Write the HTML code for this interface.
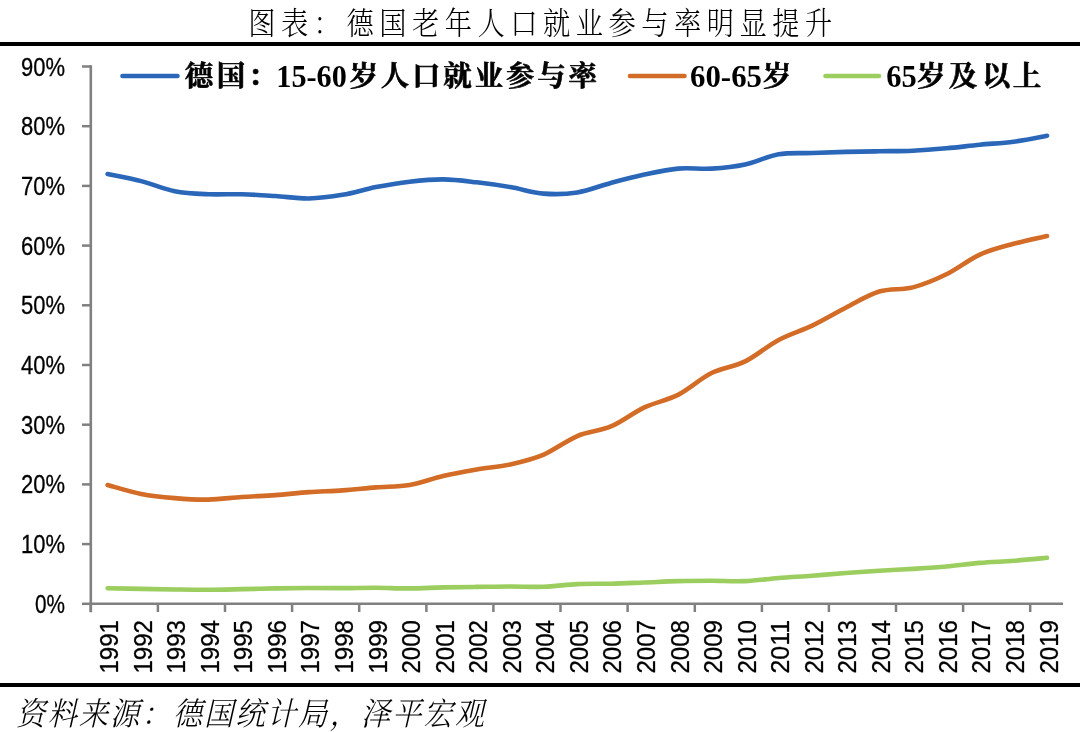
<!DOCTYPE html>
<html><head><meta charset="utf-8"><title>图表：德国老年人口就业参与率明显提升</title>
<style>html,body{margin:0;padding:0;background:#fff;}svg{display:block;will-change:transform;}</style></head>
<body><svg width="1080" height="732" viewBox="0 0 1080 732">
<rect x="0" y="42" width="1080" height="4" fill="#000"/>
<rect x="0" y="683" width="1080" height="4" fill="#000"/>
<text transform="scale(0.880,1)" x="297.61 334.83 372.05 409.26 446.48 483.69 520.91 558.12 595.34 632.56 669.77 706.99 744.20 781.42 818.64 855.85 893.07 930.28" y="34" text-anchor="middle" font-family="'Liberation Serif', 'Noto Serif CJK SC', serif" font-weight="300" font-size="31" fill="#000">图表：德国老年人口就业参与率明显提升</text>
<text transform="scale(0.920,1)" x="33.48 67.53 101.59 135.64 169.70 203.75 237.80 271.86 305.91 339.97 374.02 408.08 442.13 476.18 510.24" y="725.3" text-anchor="middle" font-family="'Liberation Serif', 'Noto Serif CJK SC', serif" font-style="italic" font-weight="300" font-size="32" fill="#000">资料来源：德国统计局，泽平宏观</text>
<line x1="90.8" y1="65.20" x2="90.8" y2="612.2" stroke="#808080" stroke-width="2.6"/>
<line x1="89.6" y1="603.8" x2="1063.0" y2="603.8" stroke="#808080" stroke-width="2.5"/>
<line x1="82" y1="603.8" x2="90.8" y2="603.8" stroke="#808080" stroke-width="2.5"/>
<text x="65" y="612.8" text-anchor="end" font-family="'Liberation Sans', 'DejaVu Sans', sans-serif" font-size="25" textLength="30" lengthAdjust="spacingAndGlyphs" fill="#000" stroke="#000" stroke-width="0.3">0%</text>
<line x1="82" y1="544.1" x2="90.8" y2="544.1" stroke="#808080" stroke-width="2.5"/>
<text x="65" y="553.1" text-anchor="end" font-family="'Liberation Sans', 'DejaVu Sans', sans-serif" font-size="25" textLength="44" lengthAdjust="spacingAndGlyphs" fill="#000" stroke="#000" stroke-width="0.3">10%</text>
<line x1="82" y1="484.4" x2="90.8" y2="484.4" stroke="#808080" stroke-width="2.5"/>
<text x="65" y="493.4" text-anchor="end" font-family="'Liberation Sans', 'DejaVu Sans', sans-serif" font-size="25" textLength="44" lengthAdjust="spacingAndGlyphs" fill="#000" stroke="#000" stroke-width="0.3">20%</text>
<line x1="82" y1="424.7" x2="90.8" y2="424.7" stroke="#808080" stroke-width="2.5"/>
<text x="65" y="433.7" text-anchor="end" font-family="'Liberation Sans', 'DejaVu Sans', sans-serif" font-size="25" textLength="44" lengthAdjust="spacingAndGlyphs" fill="#000" stroke="#000" stroke-width="0.3">30%</text>
<line x1="82" y1="365.0" x2="90.8" y2="365.0" stroke="#808080" stroke-width="2.5"/>
<text x="65" y="374.0" text-anchor="end" font-family="'Liberation Sans', 'DejaVu Sans', sans-serif" font-size="25" textLength="44" lengthAdjust="spacingAndGlyphs" fill="#000" stroke="#000" stroke-width="0.3">40%</text>
<line x1="82" y1="305.3" x2="90.8" y2="305.3" stroke="#808080" stroke-width="2.5"/>
<text x="65" y="314.3" text-anchor="end" font-family="'Liberation Sans', 'DejaVu Sans', sans-serif" font-size="25" textLength="44" lengthAdjust="spacingAndGlyphs" fill="#000" stroke="#000" stroke-width="0.3">50%</text>
<line x1="82" y1="245.6" x2="90.8" y2="245.6" stroke="#808080" stroke-width="2.5"/>
<text x="65" y="254.6" text-anchor="end" font-family="'Liberation Sans', 'DejaVu Sans', sans-serif" font-size="25" textLength="44" lengthAdjust="spacingAndGlyphs" fill="#000" stroke="#000" stroke-width="0.3">60%</text>
<line x1="82" y1="185.9" x2="90.8" y2="185.9" stroke="#808080" stroke-width="2.5"/>
<text x="65" y="194.9" text-anchor="end" font-family="'Liberation Sans', 'DejaVu Sans', sans-serif" font-size="25" textLength="44" lengthAdjust="spacingAndGlyphs" fill="#000" stroke="#000" stroke-width="0.3">70%</text>
<line x1="82" y1="126.2" x2="90.8" y2="126.2" stroke="#808080" stroke-width="2.5"/>
<text x="65" y="135.2" text-anchor="end" font-family="'Liberation Sans', 'DejaVu Sans', sans-serif" font-size="25" textLength="44" lengthAdjust="spacingAndGlyphs" fill="#000" stroke="#000" stroke-width="0.3">80%</text>
<line x1="82" y1="66.5" x2="90.8" y2="66.5" stroke="#808080" stroke-width="2.5"/>
<text x="65" y="75.5" text-anchor="end" font-family="'Liberation Sans', 'DejaVu Sans', sans-serif" font-size="25" textLength="44" lengthAdjust="spacingAndGlyphs" fill="#000" stroke="#000" stroke-width="0.3">90%</text>
<line x1="90.8" y1="603.8" x2="90.8" y2="612" stroke="#808080" stroke-width="2.5"/>
<line x1="157.9" y1="603.8" x2="157.9" y2="612" stroke="#808080" stroke-width="2.5"/>
<line x1="225.0" y1="603.8" x2="225.0" y2="612" stroke="#808080" stroke-width="2.5"/>
<line x1="292.1" y1="603.8" x2="292.1" y2="612" stroke="#808080" stroke-width="2.5"/>
<line x1="359.2" y1="603.8" x2="359.2" y2="612" stroke="#808080" stroke-width="2.5"/>
<line x1="426.4" y1="603.8" x2="426.4" y2="612" stroke="#808080" stroke-width="2.5"/>
<line x1="493.4" y1="603.8" x2="493.4" y2="612" stroke="#808080" stroke-width="2.5"/>
<line x1="560.5" y1="603.8" x2="560.5" y2="612" stroke="#808080" stroke-width="2.5"/>
<line x1="627.6" y1="603.8" x2="627.6" y2="612" stroke="#808080" stroke-width="2.5"/>
<line x1="694.8" y1="603.8" x2="694.8" y2="612" stroke="#808080" stroke-width="2.5"/>
<line x1="761.9" y1="603.8" x2="761.9" y2="612" stroke="#808080" stroke-width="2.5"/>
<line x1="828.9" y1="603.8" x2="828.9" y2="612" stroke="#808080" stroke-width="2.5"/>
<line x1="896.0" y1="603.8" x2="896.0" y2="612" stroke="#808080" stroke-width="2.5"/>
<line x1="963.1" y1="603.8" x2="963.1" y2="612" stroke="#808080" stroke-width="2.5"/>
<line x1="1030.2" y1="603.8" x2="1030.2" y2="612" stroke="#808080" stroke-width="2.5"/>
<text transform="translate(118.1,620) rotate(-90)" text-anchor="end" font-family="'Liberation Sans', 'DejaVu Sans', sans-serif" font-size="25" textLength="53.5" lengthAdjust="spacingAndGlyphs" fill="#000" stroke="#000" stroke-width="0.3">1991</text>
<text transform="translate(151.7,620) rotate(-90)" text-anchor="end" font-family="'Liberation Sans', 'DejaVu Sans', sans-serif" font-size="25" textLength="53.5" lengthAdjust="spacingAndGlyphs" fill="#000" stroke="#000" stroke-width="0.3">1992</text>
<text transform="translate(185.2,620) rotate(-90)" text-anchor="end" font-family="'Liberation Sans', 'DejaVu Sans', sans-serif" font-size="25" textLength="53.5" lengthAdjust="spacingAndGlyphs" fill="#000" stroke="#000" stroke-width="0.3">1993</text>
<text transform="translate(218.8,620) rotate(-90)" text-anchor="end" font-family="'Liberation Sans', 'DejaVu Sans', sans-serif" font-size="25" textLength="53.5" lengthAdjust="spacingAndGlyphs" fill="#000" stroke="#000" stroke-width="0.3">1994</text>
<text transform="translate(252.3,620) rotate(-90)" text-anchor="end" font-family="'Liberation Sans', 'DejaVu Sans', sans-serif" font-size="25" textLength="53.5" lengthAdjust="spacingAndGlyphs" fill="#000" stroke="#000" stroke-width="0.3">1995</text>
<text transform="translate(285.9,620) rotate(-90)" text-anchor="end" font-family="'Liberation Sans', 'DejaVu Sans', sans-serif" font-size="25" textLength="53.5" lengthAdjust="spacingAndGlyphs" fill="#000" stroke="#000" stroke-width="0.3">1996</text>
<text transform="translate(319.4,620) rotate(-90)" text-anchor="end" font-family="'Liberation Sans', 'DejaVu Sans', sans-serif" font-size="25" textLength="53.5" lengthAdjust="spacingAndGlyphs" fill="#000" stroke="#000" stroke-width="0.3">1997</text>
<text transform="translate(353.0,620) rotate(-90)" text-anchor="end" font-family="'Liberation Sans', 'DejaVu Sans', sans-serif" font-size="25" textLength="53.5" lengthAdjust="spacingAndGlyphs" fill="#000" stroke="#000" stroke-width="0.3">1998</text>
<text transform="translate(386.5,620) rotate(-90)" text-anchor="end" font-family="'Liberation Sans', 'DejaVu Sans', sans-serif" font-size="25" textLength="53.5" lengthAdjust="spacingAndGlyphs" fill="#000" stroke="#000" stroke-width="0.3">1999</text>
<text transform="translate(420.1,620) rotate(-90)" text-anchor="end" font-family="'Liberation Sans', 'DejaVu Sans', sans-serif" font-size="25" textLength="53.5" lengthAdjust="spacingAndGlyphs" fill="#000" stroke="#000" stroke-width="0.3">2000</text>
<text transform="translate(453.6,620) rotate(-90)" text-anchor="end" font-family="'Liberation Sans', 'DejaVu Sans', sans-serif" font-size="25" textLength="53.5" lengthAdjust="spacingAndGlyphs" fill="#000" stroke="#000" stroke-width="0.3">2001</text>
<text transform="translate(487.2,620) rotate(-90)" text-anchor="end" font-family="'Liberation Sans', 'DejaVu Sans', sans-serif" font-size="25" textLength="53.5" lengthAdjust="spacingAndGlyphs" fill="#000" stroke="#000" stroke-width="0.3">2002</text>
<text transform="translate(520.7,620) rotate(-90)" text-anchor="end" font-family="'Liberation Sans', 'DejaVu Sans', sans-serif" font-size="25" textLength="53.5" lengthAdjust="spacingAndGlyphs" fill="#000" stroke="#000" stroke-width="0.3">2003</text>
<text transform="translate(554.3,620) rotate(-90)" text-anchor="end" font-family="'Liberation Sans', 'DejaVu Sans', sans-serif" font-size="25" textLength="53.5" lengthAdjust="spacingAndGlyphs" fill="#000" stroke="#000" stroke-width="0.3">2004</text>
<text transform="translate(587.8,620) rotate(-90)" text-anchor="end" font-family="'Liberation Sans', 'DejaVu Sans', sans-serif" font-size="25" textLength="53.5" lengthAdjust="spacingAndGlyphs" fill="#000" stroke="#000" stroke-width="0.3">2005</text>
<text transform="translate(621.4,620) rotate(-90)" text-anchor="end" font-family="'Liberation Sans', 'DejaVu Sans', sans-serif" font-size="25" textLength="53.5" lengthAdjust="spacingAndGlyphs" fill="#000" stroke="#000" stroke-width="0.3">2006</text>
<text transform="translate(654.9,620) rotate(-90)" text-anchor="end" font-family="'Liberation Sans', 'DejaVu Sans', sans-serif" font-size="25" textLength="53.5" lengthAdjust="spacingAndGlyphs" fill="#000" stroke="#000" stroke-width="0.3">2007</text>
<text transform="translate(688.5,620) rotate(-90)" text-anchor="end" font-family="'Liberation Sans', 'DejaVu Sans', sans-serif" font-size="25" textLength="53.5" lengthAdjust="spacingAndGlyphs" fill="#000" stroke="#000" stroke-width="0.3">2008</text>
<text transform="translate(722.0,620) rotate(-90)" text-anchor="end" font-family="'Liberation Sans', 'DejaVu Sans', sans-serif" font-size="25" textLength="53.5" lengthAdjust="spacingAndGlyphs" fill="#000" stroke="#000" stroke-width="0.3">2009</text>
<text transform="translate(755.6,620) rotate(-90)" text-anchor="end" font-family="'Liberation Sans', 'DejaVu Sans', sans-serif" font-size="25" textLength="53.5" lengthAdjust="spacingAndGlyphs" fill="#000" stroke="#000" stroke-width="0.3">2010</text>
<text transform="translate(789.1,620) rotate(-90)" text-anchor="end" font-family="'Liberation Sans', 'DejaVu Sans', sans-serif" font-size="25" textLength="53.5" lengthAdjust="spacingAndGlyphs" fill="#000" stroke="#000" stroke-width="0.3">2011</text>
<text transform="translate(822.7,620) rotate(-90)" text-anchor="end" font-family="'Liberation Sans', 'DejaVu Sans', sans-serif" font-size="25" textLength="53.5" lengthAdjust="spacingAndGlyphs" fill="#000" stroke="#000" stroke-width="0.3">2012</text>
<text transform="translate(856.2,620) rotate(-90)" text-anchor="end" font-family="'Liberation Sans', 'DejaVu Sans', sans-serif" font-size="25" textLength="53.5" lengthAdjust="spacingAndGlyphs" fill="#000" stroke="#000" stroke-width="0.3">2013</text>
<text transform="translate(889.8,620) rotate(-90)" text-anchor="end" font-family="'Liberation Sans', 'DejaVu Sans', sans-serif" font-size="25" textLength="53.5" lengthAdjust="spacingAndGlyphs" fill="#000" stroke="#000" stroke-width="0.3">2014</text>
<text transform="translate(923.3,620) rotate(-90)" text-anchor="end" font-family="'Liberation Sans', 'DejaVu Sans', sans-serif" font-size="25" textLength="53.5" lengthAdjust="spacingAndGlyphs" fill="#000" stroke="#000" stroke-width="0.3">2015</text>
<text transform="translate(956.9,620) rotate(-90)" text-anchor="end" font-family="'Liberation Sans', 'DejaVu Sans', sans-serif" font-size="25" textLength="53.5" lengthAdjust="spacingAndGlyphs" fill="#000" stroke="#000" stroke-width="0.3">2016</text>
<text transform="translate(990.4,620) rotate(-90)" text-anchor="end" font-family="'Liberation Sans', 'DejaVu Sans', sans-serif" font-size="25" textLength="53.5" lengthAdjust="spacingAndGlyphs" fill="#000" stroke="#000" stroke-width="0.3">2017</text>
<text transform="translate(1024.0,620) rotate(-90)" text-anchor="end" font-family="'Liberation Sans', 'DejaVu Sans', sans-serif" font-size="25" textLength="53.5" lengthAdjust="spacingAndGlyphs" fill="#000" stroke="#000" stroke-width="0.3">2018</text>
<text transform="translate(1057.5,620) rotate(-90)" text-anchor="end" font-family="'Liberation Sans', 'DejaVu Sans', sans-serif" font-size="25" textLength="53.5" lengthAdjust="spacingAndGlyphs" fill="#000" stroke="#000" stroke-width="0.3">2019</text>
<path d="M107.62,588.28 C113.22,588.38 129.99,588.68 141.17,588.88 C152.36,589.07 163.54,589.32 174.72,589.47 C185.91,589.62 197.09,589.82 208.27,589.77 C219.46,589.72 230.64,589.40 241.82,589.17 C253.01,588.94 264.19,588.60 275.38,588.40 C286.56,588.20 297.74,588.02 308.92,587.98 C320.11,587.94 331.29,588.19 342.47,588.16 C353.66,588.13 364.84,587.76 376.02,587.80 C387.21,587.84 398.39,588.47 409.57,588.40 C420.76,588.33 431.94,587.63 443.12,587.38 C454.31,587.13 465.49,587.05 476.67,586.90 C487.86,586.76 499.04,586.51 510.22,586.49 C521.41,586.47 532.59,587.18 543.77,586.79 C554.96,586.39 566.14,584.62 577.32,584.10 C588.51,583.58 599.69,583.95 610.88,583.68 C622.06,583.41 633.24,582.90 644.42,582.49 C655.61,582.07 666.79,581.45 677.98,581.17 C689.16,580.90 700.34,580.83 711.52,580.82 C722.71,580.81 733.89,581.58 745.07,581.11 C756.26,580.65 767.44,578.91 778.62,578.01 C789.81,577.11 800.99,576.57 812.17,575.74 C823.36,574.92 834.54,573.88 845.72,573.05 C856.91,572.23 868.09,571.48 879.27,570.79 C890.46,570.09 901.64,569.59 912.82,568.88 C924.01,568.16 935.19,567.48 946.38,566.49 C957.56,565.49 968.74,563.85 979.92,562.91 C991.11,561.96 1002.29,561.66 1013.47,560.82 C1024.66,559.97 1041.43,558.33 1047.02,557.83" fill="none" stroke="#9BCD5F" stroke-width="4.6" stroke-linecap="round" stroke-linejoin="round"/>
<path d="M107.62,485.00 C113.22,486.49 129.99,491.76 141.17,493.95 C152.36,496.14 163.54,497.19 174.72,498.13 C185.91,499.08 197.09,499.82 208.27,499.62 C219.46,499.42 230.64,497.68 241.82,496.94 C253.01,496.19 264.19,495.94 275.38,495.15 C286.56,494.35 297.74,492.96 308.92,492.16 C320.11,491.36 331.29,491.17 342.47,490.37 C353.66,489.57 364.84,488.28 376.02,487.38 C387.21,486.49 398.39,486.89 409.57,485.00 C420.76,483.11 431.94,478.63 443.12,476.04 C454.31,473.45 465.49,471.42 476.67,469.47 C487.86,467.53 499.04,466.89 510.22,464.40 C521.41,461.91 532.59,459.28 543.77,454.55 C554.96,449.82 566.14,440.72 577.32,436.04 C588.51,431.37 599.69,431.27 610.88,426.49 C622.06,421.71 633.24,412.66 644.42,407.39 C655.61,402.11 666.79,400.57 677.98,394.85 C689.16,389.13 700.34,378.63 711.52,373.06 C722.71,367.49 733.89,366.94 745.07,361.42 C756.26,355.90 767.44,345.90 778.62,339.93 C789.81,333.96 800.99,330.97 812.17,325.60 C823.36,320.22 834.54,313.36 845.72,307.69 C856.91,302.02 868.09,294.95 879.27,291.57 C890.46,288.19 901.64,290.28 912.82,287.39 C924.01,284.50 935.19,279.73 946.38,274.26 C957.56,268.78 968.74,259.63 979.92,254.55 C991.11,249.48 1002.29,246.89 1013.47,243.81 C1024.66,240.72 1041.43,237.34 1047.02,236.05" fill="none" stroke="#D26C26" stroke-width="4.6" stroke-linecap="round" stroke-linejoin="round"/>
<path d="M107.62,173.96 C113.22,175.15 129.99,178.24 141.17,181.12 C152.36,184.01 163.54,189.08 174.72,191.27 C185.91,193.46 197.09,193.76 208.27,194.26 C219.46,194.76 230.64,193.96 241.82,194.26 C253.01,194.56 264.19,195.35 275.38,196.05 C286.56,196.75 297.74,198.64 308.92,198.44 C320.11,198.24 331.29,196.75 342.47,194.85 C353.66,192.96 364.84,189.28 376.02,187.09 C387.21,184.91 398.39,183.01 409.57,181.72 C420.76,180.43 431.94,179.23 443.12,179.33 C454.31,179.43 465.49,181.02 476.67,182.32 C487.86,183.61 499.04,185.20 510.22,187.09 C521.41,188.98 532.59,192.77 543.77,193.66 C554.96,194.56 566.14,194.26 577.32,192.47 C588.51,190.68 599.69,185.90 610.88,182.91 C622.06,179.93 633.24,176.94 644.42,174.56 C655.61,172.17 666.79,169.58 677.98,168.59 C689.16,167.59 700.34,169.28 711.52,168.59 C722.71,167.89 733.89,166.80 745.07,164.41 C756.26,162.02 767.44,156.15 778.62,154.26 C789.81,152.37 800.99,153.46 812.17,153.06 C823.36,152.67 834.54,152.17 845.72,151.87 C856.91,151.57 868.09,151.47 879.27,151.27 C890.46,151.07 901.64,151.17 912.82,150.68 C924.01,150.18 935.19,149.28 946.38,148.29 C957.56,147.29 968.74,145.80 979.92,144.71 C991.11,143.61 1002.29,143.21 1013.47,141.72 C1024.66,140.23 1041.43,136.75 1047.02,135.75" fill="none" stroke="#2B67B8" stroke-width="4.6" stroke-linecap="round" stroke-linejoin="round"/>
<line x1="122.5" y1="76" x2="177.5" y2="76" stroke="#2B67B8" stroke-width="4.6" stroke-linecap="round"/>
<text x="199.0 230.9 262.2" y="85.9" text-anchor="middle" font-family="'Liberation Serif', 'Noto Serif CJK SC', serif" font-weight="bold" font-size="28.5" fill="#000" stroke="#000" stroke-width="0.6">德国：</text>
<text x="276.3" y="86.7" font-family="'Liberation Serif', 'Noto Serif CJK SC', serif" font-weight="bold" font-size="31" textLength="70.5" lengthAdjust="spacingAndGlyphs" fill="#000">15-60</text>
<text x="363.7 395.0 426.3 457.6 488.9 520.2 551.5 582.8" y="85.9" text-anchor="middle" font-family="'Liberation Serif', 'Noto Serif CJK SC', serif" font-weight="bold" font-size="28.5" fill="#000" stroke="#000" stroke-width="0.6">岁人口就业参与率</text>
<line x1="630.0" y1="76" x2="684.5" y2="76" stroke="#D26C26" stroke-width="4.6" stroke-linecap="round"/>
<text x="690.0" y="86.7" font-family="'Liberation Serif', 'Noto Serif CJK SC', serif" font-weight="bold" font-size="31" textLength="72.0" lengthAdjust="spacingAndGlyphs" fill="#000">60-65</text>
<text x="777.0" y="85.9" text-anchor="middle" font-family="'Liberation Serif', 'Noto Serif CJK SC', serif" font-weight="bold" font-size="28.5" fill="#000" stroke="#000" stroke-width="0.6">岁</text>
<line x1="825.5" y1="76" x2="879.0" y2="76" stroke="#9BCD5F" stroke-width="4.6" stroke-linecap="round"/>
<text x="886.3" y="86.7" font-family="'Liberation Serif', 'Noto Serif CJK SC', serif" font-weight="bold" font-size="31" textLength="30.5" lengthAdjust="spacingAndGlyphs" fill="#000">65</text>
<text x="931.2 963.1 996.2 1026.9" y="85.9" text-anchor="middle" font-family="'Liberation Serif', 'Noto Serif CJK SC', serif" font-weight="bold" font-size="28.5" fill="#000" stroke="#000" stroke-width="0.6">岁及以上</text>
</svg></body></html>
